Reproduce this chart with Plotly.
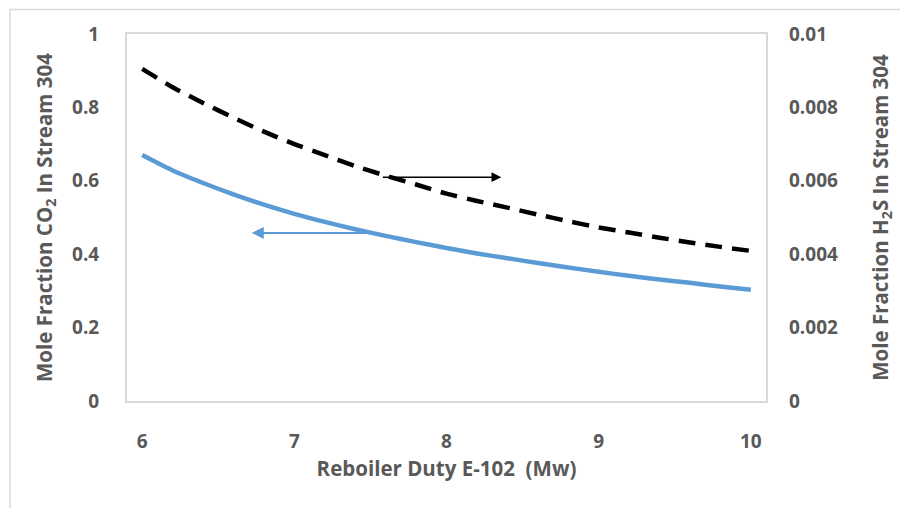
import plotly.graph_objects as go

duty = [6.0, 6.2, 6.4, 6.6, 6.8, 7.0, 7.2, 7.4, 7.6, 7.8, 8.0,
        8.2, 8.4, 8.6, 8.8, 9.0, 9.2, 9.4, 9.6, 9.8, 10.0]
co2 = [0.670, 0.628, 0.594, 0.563, 0.535, 0.510, 0.488, 0.468, 0.450, 0.433, 0.417,
       0.402, 0.389, 0.376, 0.364, 0.352, 0.341, 0.331, 0.322, 0.312, 0.303]
h2s = [0.00905, 0.00855, 0.00812, 0.00772, 0.00734, 0.00700, 0.00670, 0.00640, 0.00614, 0.00590, 0.00565,
       0.00545, 0.00527, 0.00508, 0.00490, 0.00473, 0.00459, 0.00445, 0.00432, 0.00420, 0.00409]

x_ticks = [6, 7, 8, 9, 10]
y_ticks = [0, 0.2, 0.4, 0.6, 0.8, 1]
y_tick_text = ["0", "0.2", "0.4", "0.6", "0.8", "1"]
y2_ticks = [0, 0.002, 0.004, 0.006, 0.008, 0.01]
y2_tick_text = ["0", "0.002", "0.004", "0.006", "0.008", "0.01"]

FONT = "Open Sans"
GRAY = "#595959"
BOX = "#d9d9d9"
TICK_SIZE = 19
TITLE_SIZE = 20.5

fig = go.Figure()
fig.add_trace(go.Scatter(x=duty, y=co2, mode="lines",
                         line=dict(color="#5B9BD5", width=4.5, shape="spline", smoothing=0.6),
                         yaxis="y", showlegend=False))
fig.add_trace(go.Scatter(x=duty, y=h2s, mode="lines",
                         line=dict(color="black", width=4.5, dash="17px,10px", shape="spline", smoothing=0.6),
                         yaxis="y2", showlegend=False))

# arrows indicating which axis each curve belongs to
fig.add_annotation(x=8.36, y=0.0061, ax=7.555, ay=0.0061, xref="x", yref="y2", axref="x", ayref="y2",
                   showarrow=True, arrowhead=2, arrowsize=1.3, arrowwidth=1.5, arrowcolor="black", text=" ")
fig.add_annotation(x=6.72, y=0.458, ax=7.50, ay=0.458, xref="x", yref="y", axref="x", ayref="y",
                   showarrow=True, arrowhead=2, arrowsize=1.2, arrowwidth=2, arrowcolor="#5B9BD5", text=" ")

# outer chart frame
fig.add_shape(type="rect", xref="paper", yref="paper",
              x0=-0.183, x1=1.25, y0=-0.35, y1=1.0668,
              line=dict(color=BOX, width=1.5), fillcolor="rgba(0,0,0,0)", layer="below")

fig.update_layout(
    width=900, height=508,
    margin=dict(l=127, r=131, t=34, b=107),
    paper_bgcolor="white", plot_bgcolor="white",
    font=dict(family=FONT, color=GRAY, size=TICK_SIZE),
    xaxis=dict(range=[5.9, 10.1], tickvals=x_ticks, ticktext=[str(v) for v in x_ticks],
               showgrid=False, zeroline=False, showline=True, mirror=True,
               linecolor=BOX, linewidth=2, ticks="", ticklabelstandoff=22,
               tickfont=dict(family=FONT, size=TICK_SIZE, color=GRAY, weight="bold"),
               title=dict(text="Reboiler Duty E-102  (Mw)", standoff=8,
                          font=dict(family=FONT, size=TITLE_SIZE, color=GRAY, weight="bold"))),
    yaxis=dict(range=[0, 1], tickvals=y_ticks, ticktext=y_tick_text,
               showgrid=False, zeroline=False, showline=True, mirror=True,
               linecolor=BOX, linewidth=2, ticks="", ticklabelstandoff=22,
               tickfont=dict(family=FONT, size=TICK_SIZE, color=GRAY, weight="bold"),
               title=dict(text="Mole Fraction CO<sub>2</sub> In Stream 304", standoff=14,
                          font=dict(family=FONT, size=TITLE_SIZE, color=GRAY, weight="bold"))),
    yaxis2=dict(range=[0, 0.01], tickvals=y2_ticks, ticktext=y2_tick_text, overlaying="y", side="right",
                showgrid=False, zeroline=False, showline=False, ticks="", ticklabelstandoff=22,
                tickfont=dict(family=FONT, size=TICK_SIZE, color=GRAY, weight="bold"),
                title=dict(text="Mole Fraction H<sub>2</sub>S In Stream 304", standoff=36,
                           font=dict(family=FONT, size=TITLE_SIZE, color=GRAY, weight="bold"))),
)

fig.write_html("out.html")
